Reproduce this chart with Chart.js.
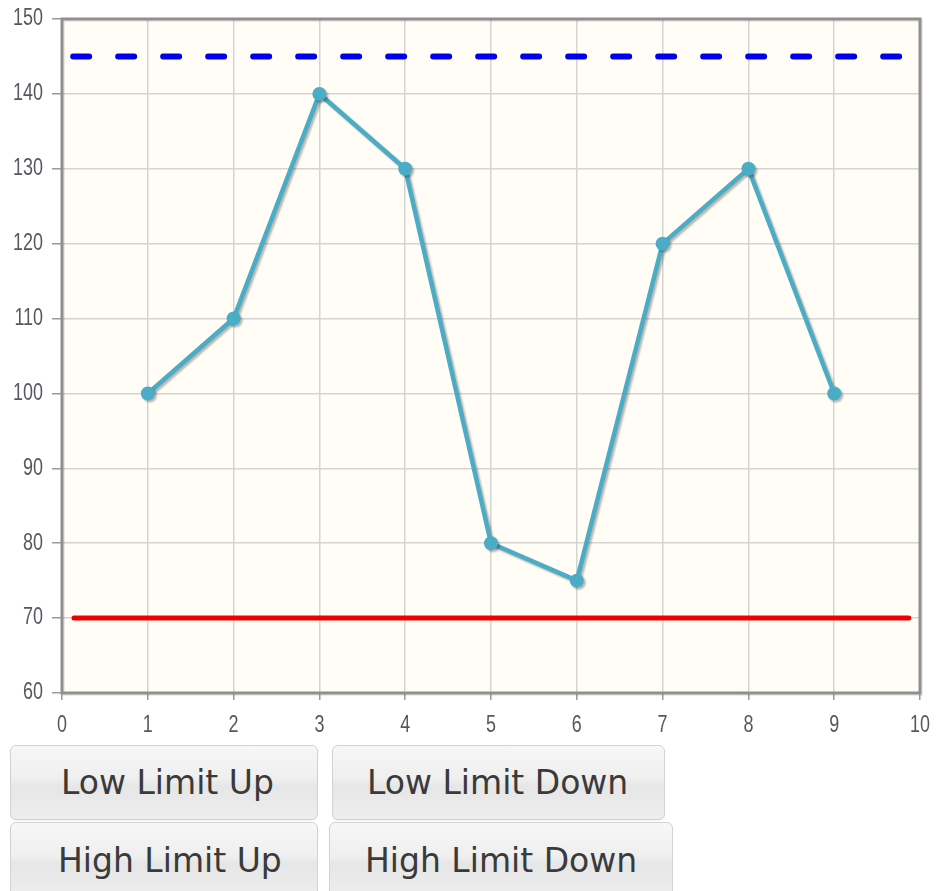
<!DOCTYPE html>
<html>
<head>
<meta charset="utf-8">
<script src="https://cdn.jsdelivr.net/npm/chart.js@4.4.1/dist/chart.umd.min.js"></script>
<style>
  html, body { margin: 0; padding: 0; background: #ffffff; }
  #wrap { position: relative; width: 936px; height: 891px; overflow: hidden; }
  #chartBox { position: absolute; left: 0; top: 0; width: 936px; height: 742px; }
  .btn {
    position: absolute; box-sizing: border-box;
    font-family: "DejaVu Sans", Verdana, sans-serif; font-size: 33px; color: #3a3a3a;
    background: linear-gradient(#f7f7f7, #efefef 45%, #e6e6e6 55%, #eeeeee);
    border: 1px solid #d2d2d2; border-radius: 6px;
    display: flex; align-items: center; justify-content: flex-start;
    white-space: nowrap;
    box-shadow: 0 1px 1px rgba(0,0,0,0.06);
  }
</style>
</head>
<body>
<div id="wrap">
  <div id="chartBox"><canvas id="c"></canvas></div>
  <div class="btn" style="left:10px;top:745px;width:308px;height:75px;padding-left:50px;">Low Limit Up</div>
  <div class="btn" style="left:332px;top:745px;width:333px;height:75px;padding-left:34px;">Low Limit Down</div>
  <div class="btn" style="left:10px;top:822px;width:308px;height:76px;padding-left:47px;">High Limit Up</div>
  <div class="btn" style="left:329px;top:822px;width:344px;height:76px;padding-left:35px;">High Limit Down</div>
</div>
<script>
// ---- data ----
const xValues = [1, 2, 3, 4, 5, 6, 7, 8, 9];
const yValues = [100, 110, 140, 130, 80, 75, 120, 130, 100];
const highLimit = 145;
const lowLimit = 70;
const highLimitRange = [0.13, 9.8];
const lowLimitRange = [0.14, 9.87];
const xTicks = [0, 1, 2, 3, 4, 5, 6, 7, 8, 9, 10];
const yTicks = [60, 70, 80, 90, 100, 110, 120, 130, 140, 150];

const seriesPoints = xValues.map((x, i) => ({ x: x, y: yValues[i] }));
const highPoints = highLimitRange.map(x => ({ x: x, y: highLimit }));
const lowPoints = lowLimitRange.map(x => ({ x: x, y: lowLimit }));

const LABEL_FONT = '23px "Liberation Sans", Arial, sans-serif';
const LABEL_COLOR = '#575760';
const LABEL_SQUEEZE = 0.78;

const areaPlugin = {
  id: 'area',
  beforeDraw(chart) {
    const a = chart.chartArea, ctx = chart.ctx;
    ctx.save();
    ctx.fillStyle = '#fffdf6';
    ctx.fillRect(a.left, a.top, a.right - a.left, a.bottom - a.top);
    ctx.restore();
  },
  beforeDatasetsDraw(chart) {
    const a = chart.chartArea, ctx = chart.ctx;
    ctx.save();
    ctx.strokeStyle = 'rgba(0,0,0,0.08)';
    ctx.lineWidth = 3;
    ctx.strokeRect(a.left + 1.5, a.top + 1.5, a.right - a.left, a.bottom - a.top);
    ctx.strokeStyle = '#8f8f8f';
    ctx.lineWidth = 3;
    ctx.strokeRect(a.left, a.top, a.right - a.left, a.bottom - a.top);
    ctx.restore();
  },
  beforeDatasetDraw(chart, args) {
    if (args.index === 2) {
      const ctx = chart.ctx;
      ctx.save();
      ctx.shadowColor = 'rgba(0,0,0,0.28)';
      ctx.shadowOffsetX = 2;
      ctx.shadowOffsetY = 2;
      ctx.shadowBlur = 2;
    }
  },
  afterDatasetDraw(chart, args) {
    if (args.index === 2) chart.ctx.restore();
  },
  afterDraw(chart) {
    // narrow tick labels (condensed look)
    const ctx = chart.ctx, a = chart.chartArea;
    const xs = chart.scales.x, ys = chart.scales.y;
    ctx.save();
    ctx.font = LABEL_FONT;
    ctx.fillStyle = LABEL_COLOR;
    ctx.textBaseline = 'middle';
    ctx.textAlign = 'right';
    ys.ticks.forEach(t => {
      const py = ys.getPixelForValue(t.value);
      ctx.save();
      ctx.translate(a.left - 19, py);
      ctx.scale(LABEL_SQUEEZE, 1);
      ctx.fillText(String(t.value), 0, 0);
      ctx.restore();
    });
    ctx.textAlign = 'center';
    xs.ticks.forEach(t => {
      const px = xs.getPixelForValue(t.value);
      ctx.save();
      ctx.translate(px, a.bottom + 33);
      ctx.scale(LABEL_SQUEEZE, 1);
      ctx.fillText(String(t.value), 0, 0);
      ctx.restore();
    });
    ctx.restore();
  }
};

new Chart(document.getElementById('c'), {
  type: 'line',
  data: {
    datasets: [
      {
        data: lowPoints, borderColor: '#ee0000', borderWidth: 5,
        pointRadius: 0, borderCapStyle: 'round', fill: false
      },
      {
        data: highPoints, borderColor: '#0000ee', borderWidth: 6,
        borderDash: [16, 29], borderCapStyle: 'round',
        pointRadius: 0, fill: false
      },
      {
        data: seriesPoints, borderColor: '#4bacc6', borderWidth: 4.5,
        pointRadius: 7, pointBackgroundColor: '#4bacc6', pointBorderColor: '#4bacc6',
        pointBorderWidth: 0, tension: 0, fill: false
      }
    ]
  },
  options: {
    responsive: true,
    maintainAspectRatio: false,
    animation: false,
    layout: { padding: { top: 19, right: 16, left: 0, bottom: 0 } },
    plugins: { legend: { display: false }, tooltip: { enabled: false } },
    scales: {
      x: {
        type: 'linear', min: 0, max: 10,
        afterBuildTicks: s => { s.ticks = xTicks.map(v => ({ value: v })); },
        afterFit: s => { s.height = 49; s.paddingLeft = 0; s.paddingRight = 0; },
        grid: { color: '#d4d4d4', lineWidth: 1.5, tickColor: '#9a9a9a', tickLength: 7, drawTicks: true },
        border: { display: false },
        ticks: { color: 'rgba(0,0,0,0)', font: { size: 14 }, padding: 4, maxRotation: 0 }
      },
      y: {
        type: 'linear', min: 60, max: 150,
        afterBuildTicks: s => { s.ticks = yTicks.map(v => ({ value: v })); },
        afterFit: s => { s.width = 62; s.paddingTop = 0; s.paddingBottom = 0; },
        grid: { color: '#d4d4d4', lineWidth: 1.5, tickColor: '#9a9a9a', tickLength: 10, drawTicks: true },
        border: { display: false },
        ticks: { color: 'rgba(0,0,0,0)', font: { size: 14 }, padding: 4 }
      }
    }
  },
  plugins: [areaPlugin]
});
</script>
</body>
</html>
